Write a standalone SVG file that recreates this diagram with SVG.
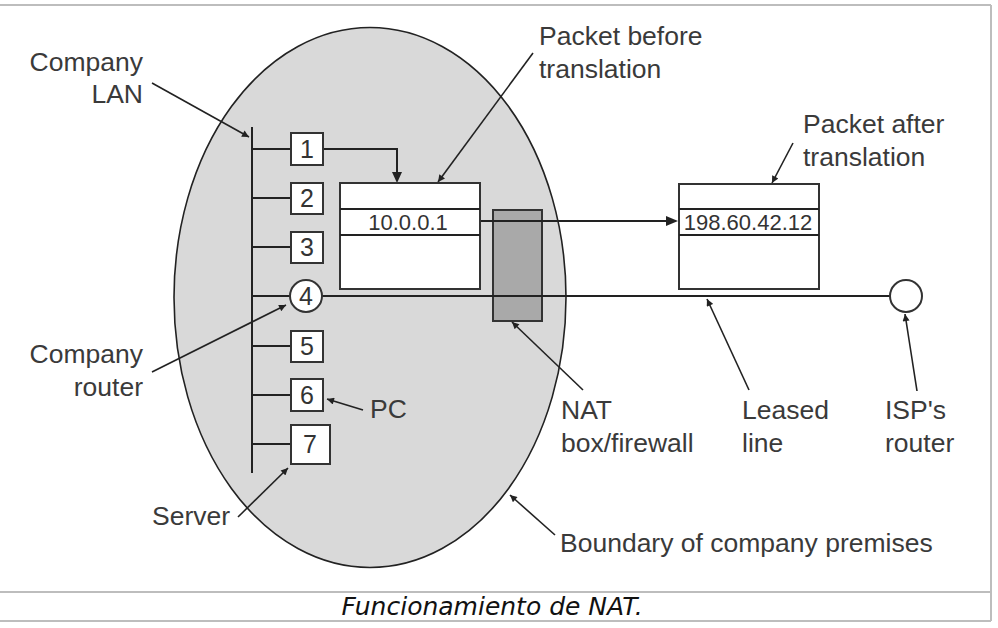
<svg xmlns="http://www.w3.org/2000/svg" width="998" height="628" viewBox="0 0 998 628">
<defs>
<style>
.lbl{font-family:"Liberation Sans",Arial,sans-serif;font-size:26.5px;fill:#3a3a3a}
.num{font-family:"Liberation Sans",Arial,sans-serif;font-size:25px;fill:#333;text-anchor:middle}
.ip{font-family:"Liberation Sans",Arial,sans-serif;font-size:22px;fill:#333;text-anchor:middle}
.ln{stroke:#222;stroke-width:2;fill:none}
.arr{stroke:#222;stroke-width:1.6;fill:none;marker-end:url(#ah)}
.box{fill:#fff;stroke:#333;stroke-width:2}
.frame{stroke:#bdbdbd;stroke-width:2;fill:none}
</style>
<marker id="ah" viewBox="0 0 10 10" refX="10" refY="5" markerWidth="10" markerHeight="7" markerUnits="userSpaceOnUse" orient="auto">
<path d="M0,0 L10,5 L0,10 z" fill="#222"/>
</marker>
</defs>
<rect x="0" y="0" width="998" height="628" fill="#fff"/>
<g id="frame">
<line class="frame" x1="0" y1="5" x2="991" y2="5"/>
<line class="frame" x1="991" y1="5" x2="991" y2="621"/>
<line class="frame" x1="0" y1="592" x2="991" y2="592"/>
<line class="frame" x1="0" y1="621" x2="991" y2="621"/>
</g>
<g id="premises">
<ellipse cx="370" cy="297.5" rx="196" ry="270" fill="#d9d9d9" stroke="#222" stroke-width="1.6"/>
</g>
<g id="nat-box">
<rect x="493" y="210" width="49" height="111" fill="#a9a9a9" stroke="#333" stroke-width="2"/>
</g>
<g id="connectors">
<line class="ln" x1="252" y1="127" x2="252" y2="473"/>
<line class="ln" x1="252" y1="149" x2="291" y2="149"/>
<line class="ln" x1="252" y1="198" x2="291" y2="198"/>
<line class="ln" x1="252" y1="247" x2="291" y2="247"/>
<line class="ln" x1="252" y1="296" x2="290" y2="296"/>
<line class="ln" x1="252" y1="346" x2="291" y2="346"/>
<line class="ln" x1="252" y1="395" x2="291" y2="395"/>
<line class="ln" x1="252" y1="444" x2="291" y2="444"/>
<path class="ln" d="M323,149 H397 V176" />
<path d="M392,172 L397,183 L402,172 z" fill="#222"/>
<line class="ln" x1="480" y1="221" x2="669" y2="221"/>
<path d="M666,216 L678,221 L666,226 z" fill="#222"/>
<line class="ln" x1="322" y1="296" x2="890" y2="296"/>
<line class="arr" x1="152" y1="83" x2="249" y2="137"/>
<line class="arr" x1="533" y1="53" x2="438" y2="182"/>
<line class="arr" x1="793" y1="143" x2="772" y2="183"/>
<line class="arr" x1="152" y1="372" x2="286" y2="305"/>
<line class="arr" x1="363" y1="410" x2="327" y2="399"/>
<line class="arr" x1="238" y1="517" x2="288" y2="468"/>
<line class="arr" x1="583" y1="390" x2="512" y2="322"/>
<line class="arr" x1="749" y1="390" x2="707" y2="299"/>
<line class="arr" x1="917" y1="391" x2="905" y2="314"/>
<line class="arr" x1="555" y1="535" x2="510" y2="495"/>
</g>
<g id="host1"><rect class="box" x="291" y="133" width="32" height="32"/><text class="num" x="307" y="158">1</text></g>
<g id="host2"><rect class="box" x="291" y="183" width="32" height="31"/><text class="num" x="307" y="207">2</text></g>
<g id="host3"><rect class="box" x="291" y="232" width="32" height="31"/><text class="num" x="307" y="256">3</text></g>
<g id="router4"><circle cx="306" cy="296" r="16" fill="#fff" stroke="#333" stroke-width="2"/><text class="num" x="306" y="305">4</text></g>
<g id="host5"><rect class="box" x="291" y="331" width="32" height="31"/><text class="num" x="307" y="355">5</text></g>
<g id="host6"><rect class="box" x="291" y="379" width="32" height="32"/><text class="num" x="307" y="404">6</text></g>
<g id="host7"><rect class="box" x="291" y="425" width="39" height="39"/><text class="num" x="310" y="453">7</text></g>
<g id="isp-router"><circle cx="906" cy="296" r="16" fill="#fff" stroke="#333" stroke-width="2"/></g>
<g id="packet-before">
<rect class="box" x="340" y="183" width="140" height="106"/>
<line class="ln" x1="340" y1="209" x2="480" y2="209"/>
<line class="ln" x1="340" y1="235" x2="480" y2="235"/>
<text class="ip" x="408" y="230">10.0.0.1</text>
</g>
<g id="packet-after">
<rect class="box" x="679" y="184" width="140" height="105"/>
<line class="ln" x1="679" y1="209" x2="819" y2="209"/>
<line class="ln" x1="679" y1="235" x2="819" y2="235"/>
<text class="ip" x="748" y="230">198.60.42.12</text>
</g>
<g id="labels">
<text class="lbl" x="143" y="71" text-anchor="end">Company</text>
<text class="lbl" x="143" y="103" text-anchor="end">LAN</text>
<text class="lbl" x="539" y="45">Packet before</text>
<text class="lbl" x="539" y="78">translation</text>
<text class="lbl" x="803" y="133">Packet after</text>
<text class="lbl" x="803" y="166">translation</text>
<text class="lbl" x="143" y="363" text-anchor="end">Company</text>
<text class="lbl" x="143" y="396" text-anchor="end">router</text>
<text class="lbl" x="370" y="418">PC</text>
<text class="lbl" x="152" y="525">Server</text>
<text class="lbl" x="561" y="419">NAT</text>
<text class="lbl" x="561" y="452">box/firewall</text>
<text class="lbl" x="742" y="419">Leased</text>
<text class="lbl" x="742" y="452">line</text>
<text class="lbl" x="885" y="419">ISP's</text>
<text class="lbl" x="885" y="452">router</text>
<text class="lbl" x="560" y="552">Boundary of company premises</text>
</g>
<g id="caption">
<text x="492" y="615" text-anchor="middle" font-family="'DejaVu Sans',sans-serif" font-style="italic" font-size="25" fill="#111">Funcionamiento de NAT.</text>
</g>
</svg>
